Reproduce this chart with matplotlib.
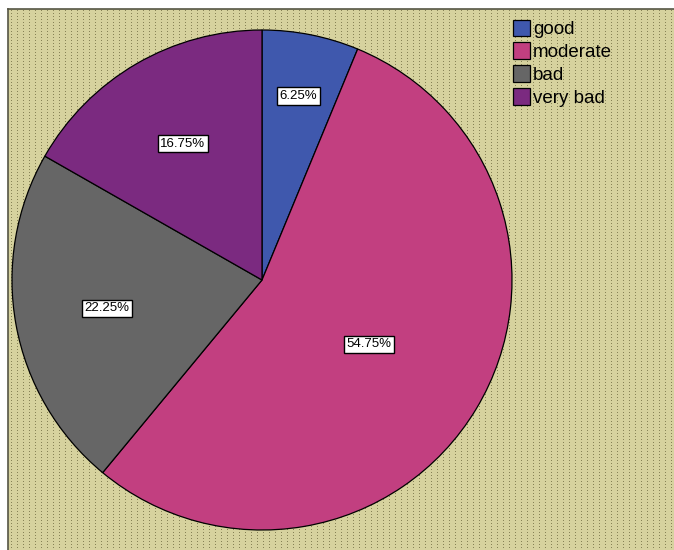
import numpy as np
import matplotlib.pyplot as plt
from matplotlib.lines import Line2D

plt.rcParams['font.family'] = ['Liberation Sans', 'DejaVu Sans']

categories = ["good", "moderate", "bad", "very bad"]
percents = [6.25, 54.75, 22.25, 16.75]
colors = ["#3f58ad", "#c23f80", "#666666", "#7b2a80"]

W, H = 674, 550
fig = plt.figure(figsize=(W / 100, H / 100), dpi=100)
fig.patch.set_facecolor("white")

# dotted khaki background (SPSS style), drawn as a pixel texture
bw, bh = W - 8, H - 9
tex = np.zeros((bh, bw, 3))
tex[:, :] = np.array([214, 210, 158]) / 255
dot = np.array([135, 131, 86]) / 255
for x in range(3, bw, 6):
    for y in range(1, bh, 3):
        tex[y, x] = dot
fig.figimage(tex, xo=8, yo=0, origin="upper", zorder=-10)

# left and top frame lines
x0, y0 = 8 / W, 1 - 9 / H
fig.add_artist(Line2D([x0, x0], [0, y0], transform=fig.transFigure, color="#555544", lw=1.2))
fig.add_artist(Line2D([x0, 1], [y0, y0], transform=fig.transFigure, color="#555544", lw=1.2))

ax = fig.add_axes([12 / W, 20 / H, 500 / W, 500 / H])
ax.set_facecolor("none")
wedges, _ = ax.pie(percents, colors=colors, startangle=90, counterclock=False,
                   radius=1.0, wedgeprops=dict(edgecolor="black", linewidth=0.9))
ax.set_xlim(-1, 1)
ax.set_ylim(-1, 1)
ax.set_aspect("equal")
ax.axis("off")

# label distances from centre (fraction of radius)
dists = [0.75, 0.50, 0.63, 0.63]
for w, p, d in zip(wedges, percents, dists):
    ang = np.deg2rad((w.theta1 + w.theta2) / 2)
    ax.text(d * np.cos(ang), d * np.sin(ang), f"{p:.2f}%", ha="center", va="center",
            fontsize=9.5, color="black",
            bbox=dict(boxstyle="square,pad=0.2", facecolor="white", edgecolor="black", linewidth=1.0))

fig.legend(wedges, categories, loc="upper left", bbox_to_anchor=(505 / W, 1 - 12 / H),
           frameon=False, fontsize=13.5, handlelength=0.95, handleheight=1.0,
           handletextpad=0.15, labelspacing=0.22, borderaxespad=0)

fig.savefig("out.png", dpi=100)
